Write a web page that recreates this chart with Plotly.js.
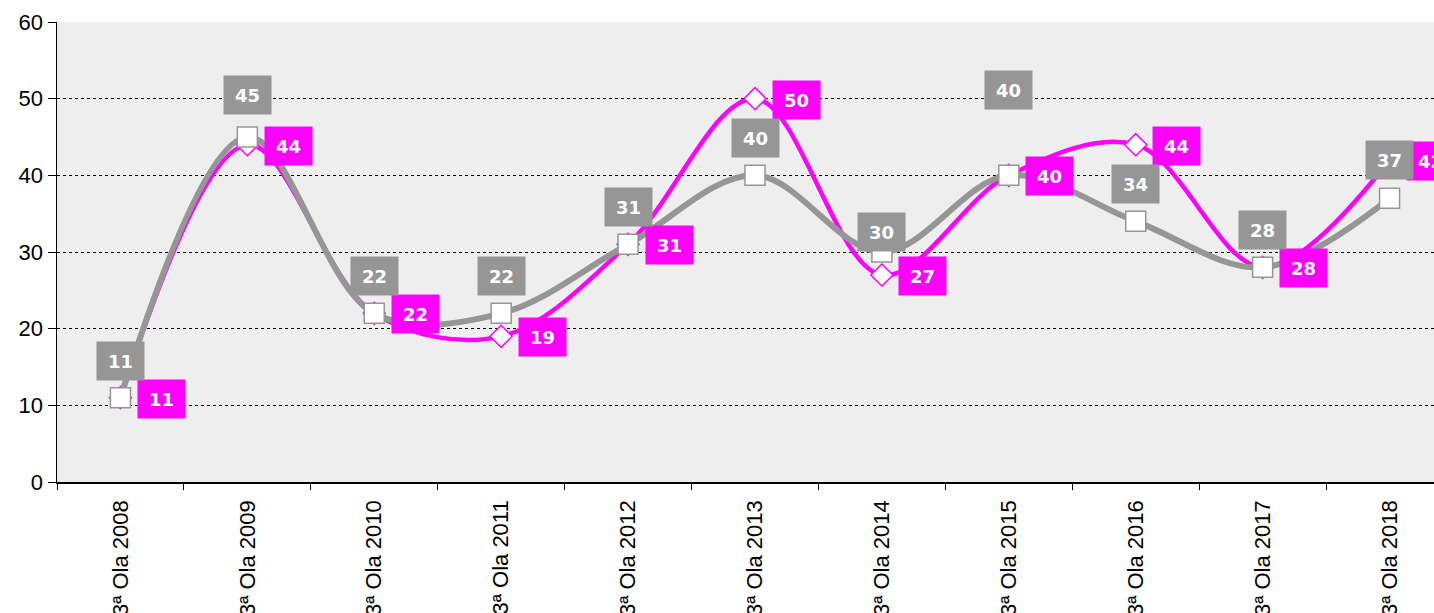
<!DOCTYPE html>
<html>
<head>
<meta charset="utf-8">
<script src="https://cdn.plot.ly/plotly-3.0.1.min.js"></script>
<style>
  html, body { margin: 0; padding: 0; overflow: hidden; background: #fff; }
  #chart { width: 1460px; height: 613px; }
</style>
</head>
<body>
<div id="chart"></div>
<script>
const categories = ['3ª Ola 2008', '3ª Ola 2009', '3ª Ola 2010', '3ª Ola 2011', '3ª Ola 2012',
  '3ª Ola 2013', '3ª Ola 2014', '3ª Ola 2015', '3ª Ola 2016', '3ª Ola 2017', '3ª Ola 2018']
const grayValues = [11, 45, 22, 22, 31, 40, 30, 40, 34, 28, 37]
const magentaValues = [11, 44, 22, 19, 31, 50, 27, 40, 44, 28, 42]

// vertical offset (px) of each gray label above its point
const grayLabelShift = [37, 42, 37, 37, 37, 37, 20, 85, 37, 37, 38]

const GRAY = '#969696'
const MAGENTA = '#ff00ff'
const LABEL_FONT = 'DejaVu Sans, Verdana, sans-serif'
const AXIS_FONT = 'Liberation Sans, Arial, sans-serif'

const magentaTrace = {
    x: categories,
    y: magentaValues,
    type: 'scatter',
    mode: 'lines+markers',
    line: {color: MAGENTA, width: 4.5, shape: 'spline', smoothing: 1},
    marker: {symbol: 'diamond', size: 17, color: '#ffffff', line: {color: MAGENTA, width: 1.5}},
    hoverinfo: 'none'
}

const grayTrace = {
    x: categories,
    y: grayValues,
    type: 'scatter',
    mode: 'lines+markers',
    line: {color: GRAY, width: 6, shape: 'spline', smoothing: 1},
    marker: {symbol: 'square', size: 20, color: '#ffffff', line: {color: GRAY, width: 1.5}},
    hoverinfo: 'none'
}

const annotations = []
magentaValues.forEach((v, i) => {
    annotations.push({
        x: categories[i], y: v, xref: 'x', yref: 'y',
        text: '<b>' + v + '</b>', showarrow: false,
        xshift: 41, yshift: -1,
        width: 45, height: 36,
        bgcolor: MAGENTA,
        font: {family: LABEL_FONT, size: 18, color: '#ffffff'}
    })
})
grayValues.forEach((v, i) => {
    annotations.push({
        x: categories[i], y: v, xref: 'x', yref: 'y',
        text: '<b>' + v + '</b>', showarrow: false,
        xshift: 0, yshift: grayLabelShift[i],
        width: 45, height: 36,
        bgcolor: GRAY,
        font: {family: LABEL_FONT, size: 18, color: '#ffffff'}
    })
})

const layout = {
    width: 1460,
    height: 613,
    margin: {l: 57, r: 7, t: 22, b: 131},
    paper_bgcolor: '#ffffff',
    plot_bgcolor: '#eeeeee',
    showlegend: false,
    font: {family: AXIS_FONT, size: 22, color: '#000000'},
    xaxis: {
        type: 'category',
        range: [-0.5, 10.5],
        tickangle: -90,
        showgrid: false,
        showline: true,
        linecolor: '#000000',
        linewidth: 1.5,
        ticks: 'outside',
        ticklen: 6,
        tickcolor: '#000000',
        tickson: 'boundaries',
        ticklabelstandoff: 8,
        tickfont: {family: AXIS_FONT, size: 22, color: '#000000'},
        zeroline: false,
        fixedrange: true
    },
    yaxis: {
        range: [0, 60],
        dtick: 10,
        showgrid: true,
        gridcolor: '#000000',
        griddash: 'dot',
        gridwidth: 1,
        showline: true,
        linecolor: '#000000',
        linewidth: 1.5,
        ticks: 'outside',
        ticklen: 8,
        tickcolor: '#000000',
        tickfont: {family: AXIS_FONT, size: 22, color: '#000000'},
        zeroline: false,
        fixedrange: true
    },
    annotations: annotations
}

Plotly.newPlot('chart', [magentaTrace, grayTrace], layout, {displayModeBar: false, staticPlot: true})
</script>
</body>
</html>
